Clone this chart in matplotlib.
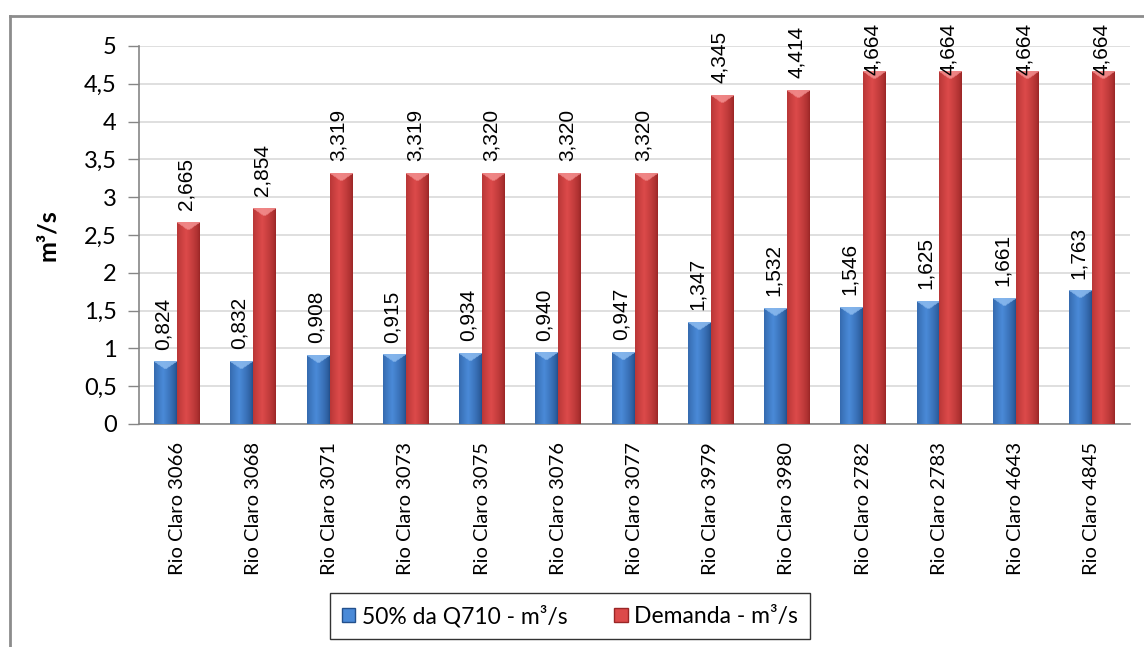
import numpy as np
import matplotlib
matplotlib.use('Agg')
from matplotlib import pyplot as plt
from matplotlib.colors import to_rgb
from matplotlib.lines import Line2D

stations = ['Rio Claro 3066', 'Rio Claro 3068', 'Rio Claro 3071', 'Rio Claro 3073',
            'Rio Claro 3075', 'Rio Claro 3076', 'Rio Claro 3077', 'Rio Claro 3979',
            'Rio Claro 3980', 'Rio Claro 2782', 'Rio Claro 2783', 'Rio Claro 4643',
            'Rio Claro 4845']
q710_half = [0.824, 0.832, 0.908, 0.915, 0.934, 0.940, 0.947, 1.347, 1.532, 1.546,
             1.625, 1.661, 1.763]
demanda = [2.665, 2.854, 3.319, 3.319, 3.320, 3.320, 3.320, 4.345, 4.414, 4.664,
           4.664, 4.664, 4.664]

series_names = ['50% da Q710 - m³/s', 'Demanda - m³/s']
blue = ('#23508c', '#4a8ad8', '#8dbcf0')   # edge, centre, bevel
red = ('#9a2626', '#dc4a4a', '#f49090')


def fmt(v):
    return f'{v:.3f}'.replace('.', ',')


def shade_bar(ax, patch, colors, bevel=0.1):
    # overlay a cylinder-like horizontal gradient with a light bevel on top
    x0, y0 = patch.get_x(), patch.get_y()
    w, h = patch.get_width(), patch.get_height()
    edge, mid, top = (np.array(to_rgb(c)) for c in colors)
    nx, ny = 40, max(int(h * 80), 10)
    u = np.linspace(0, 1, nx)
    prof = np.clip(1 - np.abs(u - 0.4) / 0.6, 0, 1) ** 0.7
    row = edge[None, :] * (1 - prof[:, None]) + mid[None, :] * prof[:, None]
    img = np.repeat(row[None, :, :], ny, axis=0)
    yy = np.linspace(h, 0, ny)
    for j in range(ny):
        depth = h - yy[j]
        if depth < bevel:
            half = 0.5 * (1 - depth / bevel)
            mask = np.abs(u - 0.5) <= half + 0.02
            img[j, mask] = top * 0.85 + img[j, mask] * 0.15
    ax.imshow(img, extent=(x0, x0 + w, y0, y0 + h), aspect='auto',
              interpolation='bilinear', zorder=3)


fig = plt.figure(figsize=(11.44, 6.47), dpi=100)
ax = fig.add_axes([139 / 1144, 1 - 424 / 647, (1130 - 139) / 1144, (424 - 46) / 647])

x = np.arange(len(stations))
width = 0.30
bars_b = ax.bar(x - width / 2, q710_half, width, color=blue[1], zorder=2)
bars_r = ax.bar(x + width / 2, demanda, width, color=red[1], zorder=2)
for p in bars_b:
    shade_bar(ax, p, blue)
for p in bars_r:
    shade_bar(ax, p, red)

# value labels above each bar, kept below the chart frame
for xs, vals in ((x - width / 2, q710_half), (x + width / 2, demanda)):
    for xi, v in zip(xs, vals):
        yb = min(v + 0.16, 4.62)
        ax.text(xi - 0.03, yb, fmt(v), rotation=90, ha='center', va='bottom',
                fontsize=15, family='Liberation Sans', clip_on=False, zorder=4)

ax.set_xlim(-0.5, len(stations) - 0.5)
ax.set_ylim(0, 5)
ax.set_yticks(np.arange(0, 5.01, 0.5))
ax.set_yticklabels([('%g' % t).replace('.', ',') for t in np.arange(0, 5.01, 0.5)],
                   family='Lato', fontsize=17)
ax.set_xticks(x)
ax.set_xticklabels(stations, rotation=90, family='Lato', fontsize=14.5)
ax.tick_params(axis='x', length=0, pad=13)
ax.tick_params(axis='y', length=8, width=1, color='#868686', pad=8)
ax.yaxis.grid(True, color='#d9d9d9', linewidth=1.2, zorder=0)
ax.set_axisbelow(True)
for s in ('top', 'right'):
    ax.spines[s].set_visible(False)
for s in ('left', 'bottom'):
    ax.spines[s].set_color('#868686')
    ax.spines[s].set_linewidth(1.2)
ax.set_ylabel('m³/s', family='Lato', fontsize=18, fontweight='bold', labelpad=18)

handles = [plt.Rectangle((0, 0), 1, 1, facecolor=blue[1], edgecolor=blue[0]),
           plt.Rectangle((0, 0), 1, 1, facecolor=red[1], edgecolor=red[0])]
leg = fig.legend(handles, series_names, loc='center', bbox_to_anchor=(570 / 1144, 1 - 616 / 647),
                 ncol=2, frameon=True, fancybox=False, prop={'family': 'Lato', 'size': 16.5},
                 handlelength=0.6, handleheight=0.6, handletextpad=0.3, columnspacing=2.0,
                 borderpad=0.5)
leg.get_frame().set_edgecolor('black')
leg.get_frame().set_linewidth(1.0)

# outer chart frame
fig.add_artist(Line2D([10 / 1144, 10 / 1144], [0, 1 - 16 / 647], transform=fig.transFigure,
                      color='#8c8c8c', linewidth=2))
fig.add_artist(Line2D([10 / 1144, 1], [1 - 16 / 647, 1 - 16 / 647], transform=fig.transFigure,
                      color='#8c8c8c', linewidth=2))

fig.savefig('out.png', dpi=100)
